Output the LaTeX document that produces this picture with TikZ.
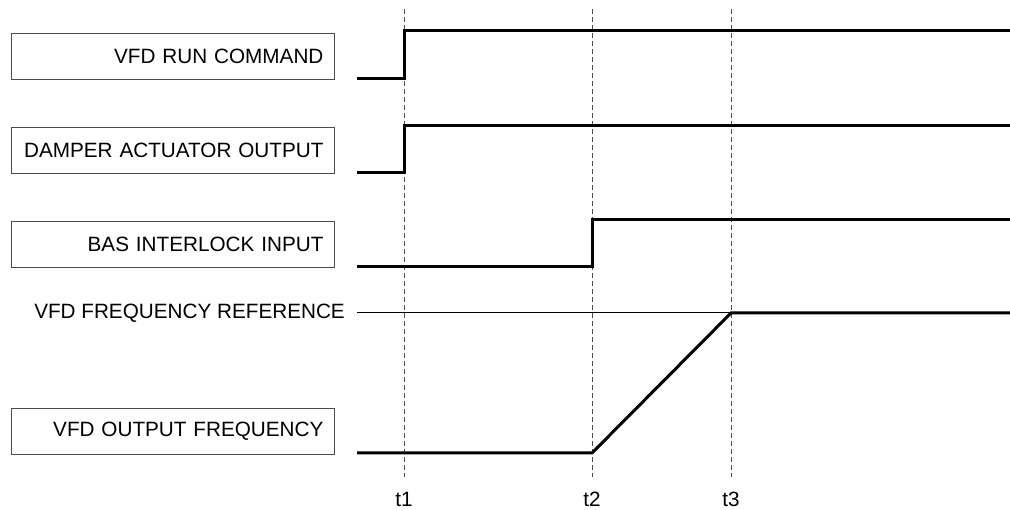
\documentclass[tikz,border=0pt]{standalone}
\usepackage{fontspec}
\setmainfont{Liberation Sans}
\begin{document}
\begin{tikzpicture}[x=1pt,y=-1pt,
  lbl/.style={draw=black!70,line width=0.9pt,minimum width=323pt,minimum height=46pt,inner sep=0pt,text width=301pt,align=right,anchor=north west,font=\fontsize{20.7}{24}\selectfont},
  sig/.style={line width=3pt,line cap=butt,line join=miter},
  guide/.style={draw=black!70,line width=0.9pt,dash pattern=on 5pt off 3pt},
  tlbl/.style={font=\fontsize{20.7}{24}\selectfont,inner sep=0pt},
  thin/.style={line width=1pt}]
\useasboundingbox (0,0) rectangle (1010,510);
% labels
\node[lbl] (l1) at (11,33) {VFD RUN COMMAND};
\node[lbl] (l2) at (11,127) {DAMPER ACTUATOR OUTPUT};
\node[lbl] (l3) at (11,221) {BAS INTERLOCK INPUT};
\node[lbl] (l5) at (11,408) {VFD OUTPUT FREQUENCY};
\node[tlbl,anchor=east] (l4) at (345,313) {VFD FREQUENCY REFERENCE};
% time guides
\coordinate (g1t) at (404,9); \coordinate (g1b) at (404,477);
\coordinate (g2t) at (592,9); \coordinate (g2b) at (592,477);
\coordinate (g3t) at (731,9); \coordinate (g3b) at (731,477);
\draw[guide] (g1t) -- (g1b);
\draw[guide] (g2t) -- (g2b);
\draw[guide] (g3t) -- (g3b);
\node[tlbl] (t1) at (404,499) {t1};
\node[tlbl] (t2) at (592,499) {t2};
\node[tlbl] (t3) at (731,499) {t3};
% reference line
\coordinate (r0) at (357,313); \coordinate (r1) at (731,313); \coordinate (r2) at (1010,313);
\draw[thin] (r0) -- (r1);
% signals
\coordinate (a0) at (357,79); \coordinate (a1) at (404,79); \coordinate (a2) at (404,31); \coordinate (a3) at (1010,31);
\draw[sig] (a0) -- (a1) -- (a2) -- (a3);
\coordinate (b0) at (357,173); \coordinate (b1) at (404,173); \coordinate (b2) at (404,126); \coordinate (b3) at (1010,126);
\draw[sig] (b0) -- (b1) -- (b2) -- (b3);
\coordinate (c0) at (357,267); \coordinate (c1) at (592,267); \coordinate (c2) at (592,220); \coordinate (c3) at (1010,220);
\draw[sig] (c0) -- (c1) -- (c2) -- (c3);
\coordinate (d0) at (357,453); \coordinate (d1) at (592,453);
\draw[sig] (d0) -- (d1) -- (r1) -- (r2);
\end{tikzpicture}
\end{document}
